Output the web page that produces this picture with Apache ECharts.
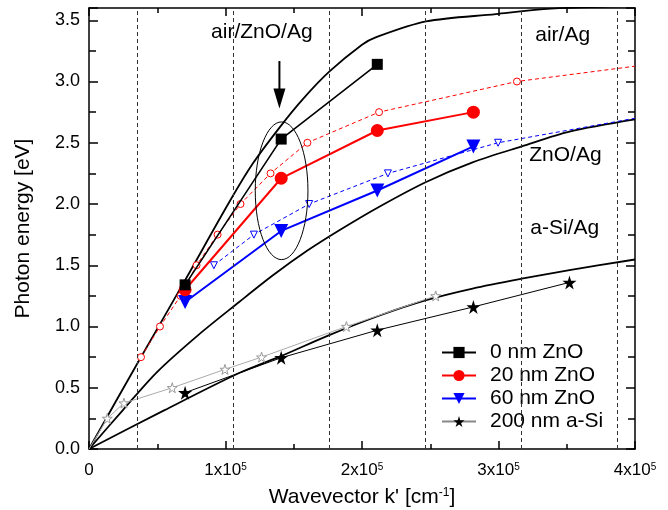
<!DOCTYPE html>
<html>
<head>
<meta charset="utf-8">
<script src="https://cdn.jsdelivr.net/npm/echarts@6/dist/echarts.min.js"></script>
<style>
  html, body { margin: 0; padding: 0; background: #fff; }
  #main { width: 668px; height: 510px; }
</style>
</head>
<body>
<div id="main"></div>
<script>
// measured points sit on the grating orders k = n * 0.704e5
const kMeas = [70400, 140800, 211200, 281600, 352000];
const e0nm = [1.34, 2.53, 3.14];
const e20nm = [1.30, 2.21, 2.60, 2.75];
const e60nm = [1.20, 1.78, 2.11, 2.47];
const e200Si = [0.46, 0.745, 0.97, 1.16, 1.36];

// dashed lines at the odd half orders
const kOrders = [35200, 105600, 176000, 246400, 316800, 387200];

// calculated dispersion curves
const kAirAg = [0, 35000, 70000, 103000, 120000, 140000, 157000, 176000, 200000, 210000, 247000, 298000, 333000, 360000, 400000];
const eAirAg = [0, 0.69, 1.37, 2.02, 2.33, 2.63, 2.86, 3.08, 3.30, 3.36, 3.49, 3.55, 3.59, 3.605, 3.615];
const kZnOAg = [0, 25000, 50000, 80000, 110000, 135000, 160000, 184000, 213000, 247000, 281000, 317000, 352000, 400000];
const eZnOAg = [0, 0.32, 0.63, 0.93, 1.20, 1.42, 1.62, 1.79, 1.98, 2.18, 2.34, 2.47, 2.59, 2.69];
const kSiAg = [0, 55000, 110000, 141000, 176000, 213000, 247000, 281000, 317000, 352000, 400000];
const eSiAg = [0, 0.315, 0.62, 0.76, 0.93, 1.09, 1.215, 1.31, 1.39, 1.46, 1.547];

// simulated modes (open symbols), end points at 0 / 4e5 carry no symbol
const kSim20 = [38100, 52000, 67100, 78800, 94200, 111000, 133000, 160000, 212500, 313500, 400000];
const eSim20 = [0.75, 1.0, 1.25, 1.5, 1.75, 2.0, 2.25, 2.5, 2.75, 3.0, 3.125];
const kSim60 = [91500, 120800, 161300, 219000, 299700, 400000];
const eSim60 = [1.5, 1.75, 2.0, 2.25, 2.5, 2.70];
const kSimSi = [0, 13400, 25600, 61000, 99600, 126400, 188600, 254000];
const eSimSi = [0, 0.25, 0.375, 0.5, 0.65, 0.75, 1.0, 1.25];

const FONT = 'Liberation Sans, Arial, sans-serif';
const STAR = 'path://M50,0 L61,35 L98,35 L68,57 L79,91 L50,70 L21,91 L32,57 L2,35 L39,35 Z';

function pts(ks, es) {
  return es.map((e, i) => {
    const k = ks[i];
    if (k === 0 || k === 400000) return { value: [k, e], symbol: 'none' };
    return [k, e];
  });
}

function curve(ks, es) {
  return {
    type: 'line', data: ks.map((k, i) => [k, es[i]]), symbol: 'none', smooth: 0.3,
    lineStyle: { color: '#000', width: 1.8 }, z: 2, silent: true
  };
}

const chart = echarts.init(document.getElementById('main'));

const tickLine = { color: '#000', width: 1.5 };
function xAx(pos, labels) {
  return {
    type: 'value', position: pos, min: 0, max: 400000, interval: 100000,
    axisLine: { onZero: false, lineStyle: tickLine },
    axisTick: { inside: true, length: 8, lineStyle: tickLine },
    minorTick: { show: true, splitNumber: 2, length: 5, lineStyle: tickLine },
    splitLine: { show: false },
    axisLabel: {
      show: labels, margin: 13, color: '#000', fontSize: 17, fontFamily: FONT,
      formatter: v => v === 0 ? '0' : '{b|' + (v / 1e5) + 'x10}{s|5}',
      rich: {
        b: { fontSize: 17, fontFamily: FONT, color: '#000' },
        s: { fontSize: 10, fontFamily: FONT, color: '#000', verticalAlign: 'top' }
      }
    }
  };
}
function yAx(pos, labels) {
  return {
    type: 'value', position: pos, min: 0, max: 3.6, interval: 0.5,
    axisLine: { onZero: false, lineStyle: tickLine },
    axisTick: { inside: true, length: 9, lineStyle: tickLine },
    minorTick: { show: true, splitNumber: 2, length: 7, lineStyle: tickLine },
    splitLine: { show: false },
    axisLabel: {
      show: labels, margin: 9, color: '#000', fontSize: 18, fontFamily: FONT,
      showMaxLabel: false,
      formatter: v => Math.abs(v * 2 - Math.round(v * 2)) < 1e-6 ? v.toFixed(1) : ''
    }
  };
}

const xBottom = xAx('bottom', true);
xBottom.name = "Wavevector k' [cm{s|-1}]";
xBottom.nameLocation = 'middle';
xBottom.nameGap = 38;
xBottom.nameTextStyle = {
  fontSize: 21, fontFamily: FONT, color: '#000',
  rich: { s: { fontSize: 12, fontFamily: FONT, color: '#000', verticalAlign: 'top' } }
};
const yLeft = yAx('left', true);
yLeft.name = 'Photon energy [eV]';
yLeft.nameLocation = 'middle';
yLeft.nameGap = 55;
yLeft.nameTextStyle = { fontSize: 21, fontFamily: FONT, color: '#000' };

const option = {
  animation: false,
  backgroundColor: '#fff',
  grid: { left: 89, right: 33, top: 8, bottom: 61, outerBoundsMode: 'none' },
  xAxis: [xBottom, xAx('top', false)],
  yAxis: [yLeft, yAx('right', false)],
  legend: {
    orient: 'vertical', left: 436, top: 337,
    itemWidth: 34, itemHeight: 14, itemGap: 2,
    textStyle: { fontSize: 21, fontFamily: FONT, color: '#000', padding: [0, 0, 0, 9] },
    data: [
      { name: '0 nm ZnO' },
      { name: '20 nm ZnO' },
      { name: '60 nm ZnO' },
      { name: '200 nm a-Si', lineStyle: { color: '#888' }, itemStyle: { color: '#000' } }
    ]
  },
  series: [
    Object.assign(curve(kAirAg, eAirAg), { name: 'air/Ag' }),
    Object.assign(curve(kZnOAg, eZnOAg), { name: 'ZnO/Ag' }),
    Object.assign(curve(kSiAg, eSiAg), {
      name: 'a-Si/Ag',
      markLine: {
        silent: true, symbol: 'none', label: { show: false },
        lineStyle: { color: '#333', width: 1, type: [4, 3] },
        data: kOrders.map(k => ({ xAxis: k }))
      }
    }),
    {
      name: 'sim a-Si', type: 'line', data: pts(kSimSi, eSimSi), z: 3,
      symbol: STAR, symbolSize: 10,
      itemStyle: { color: '#fff', borderColor: '#999', borderWidth: 1 },
      lineStyle: { color: '#aaa', width: 1 }
    },
    {
      name: 'sim 20', type: 'line', data: pts(kSim20, eSim20), z: 3,
      symbol: 'circle', symbolSize: 7,
      itemStyle: { color: '#fff', borderColor: '#ff0000', borderWidth: 1 },
      lineStyle: { color: '#ff0000', width: 1, type: [4, 3] }
    },
    {
      name: 'sim 60', type: 'line', data: pts(kSim60, eSim60), z: 3,
      symbol: 'triangle', symbolRotate: 180, symbolSize: 7,
      itemStyle: { color: '#fff', borderColor: '#0000ff', borderWidth: 1 },
      lineStyle: { color: '#0000ff', width: 1, type: [4, 3] }
    },
    {
      name: '200 nm a-Si', type: 'line', z: 4,
      data: e200Si.map((e, i) => [kMeas[i], e]),
      symbol: STAR, symbolSize: 14,
      itemStyle: { color: '#000' }, lineStyle: { color: '#000', width: 1 }
    },
    {
      name: '60 nm ZnO', type: 'line', z: 4,
      data: e60nm.map((e, i) => [kMeas[i], e]),
      symbol: 'triangle', symbolRotate: 180, symbolSize: 14,
      itemStyle: { color: '#0000ff' }, lineStyle: { color: '#0000ff', width: 2 }
    },
    {
      name: '20 nm ZnO', type: 'line', z: 4,
      data: e20nm.map((e, i) => [kMeas[i], e]),
      symbol: 'circle', symbolSize: 13,
      itemStyle: { color: '#ff0000' }, lineStyle: { color: '#ff0000', width: 2 }
    },
    {
      name: '0 nm ZnO', type: 'line', z: 4,
      data: e0nm.map((e, i) => [kMeas[i], e]),
      symbol: 'rect', symbolSize: 11,
      itemStyle: { color: '#000' }, lineStyle: { color: '#000', width: 1.6 }
    }
  ]
};

chart.setOption(option);

// annotations placed through the axes
const px = (k, e) => chart.convertToPixel({ xAxisIndex: 0, yAxisIndex: 0 }, [k, e]);
const c = px(141100, 2.108);
const cTop = px(141100, 2.67);
const cRight = px(160400, 2.108);
const aTop = px(139500, 3.167);
const aTip = px(139500, 2.78);
const labels = [
  ['air/ZnO/Ag', 126600, 3.40],
  ['air/Ag', 347000, 3.377],
  ['ZnO/Ag', 349000, 2.40],
  ['a-Si/Ag', 348500, 1.80]
];

chart.setOption({
  graphic: [
    {
      type: 'ellipse', silent: true, z: 10,
      shape: { cx: c[0], cy: c[1], rx: cRight[0] - c[0], ry: c[1] - cTop[1] },
      style: { fill: 'none', stroke: '#000', lineWidth: 1 }
    },
    {
      type: 'line', silent: true, z: 10,
      shape: { x1: aTop[0], y1: aTop[1], x2: aTip[0], y2: aTip[1] - 16 },
      style: { stroke: '#000', lineWidth: 2 }
    },
    {
      type: 'polygon', silent: true, z: 10,
      shape: { points: [[aTip[0] - 6, aTip[1] - 20], [aTip[0] + 6, aTip[1] - 20], [aTip[0], aTip[1]]] },
      style: { fill: '#000' }
    }
  ].concat(labels.map(([t, k, e]) => {
    const p = px(k, e);
    return {
      type: 'text', silent: true, z: 10,
      style: { text: t, x: p[0], y: p[1], align: 'center', verticalAlign: 'middle',
               font: '21px ' + FONT, fill: '#000' }
    };
  }))
});
</script>
</body>
</html>
